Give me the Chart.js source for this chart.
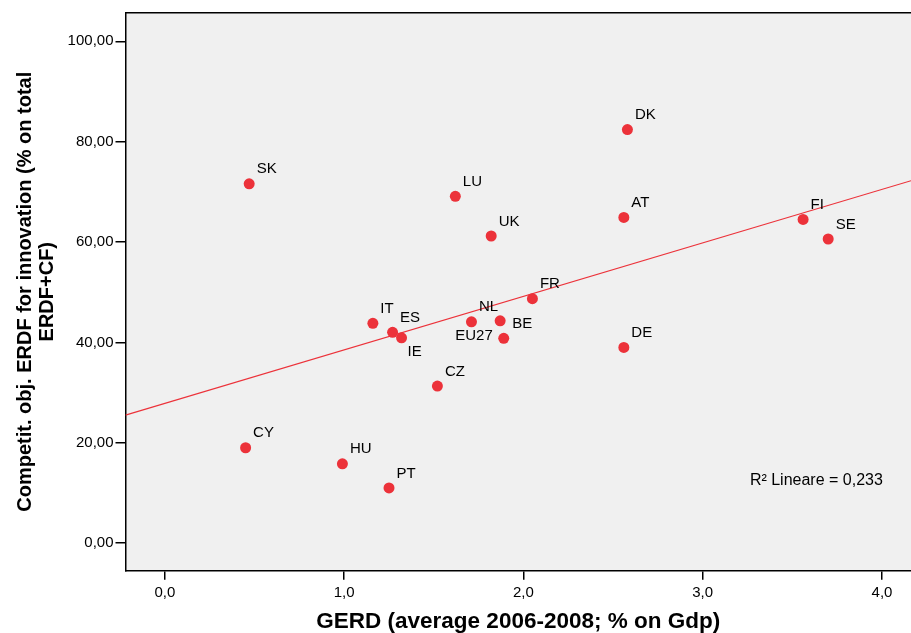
<!DOCTYPE html>
<html><head><meta charset="utf-8">
<script src="https://cdn.jsdelivr.net/npm/chart.js@4/dist/chart.umd.min.js"></script>
<style>html,body{margin:0;padding:0;background:#fff;} #wrap{width:911px;height:633px;}</style>
</head><body><div id="wrap"><canvas id="c" width="911" height="633"></canvas></div>
<script>
// ---- data ----
const countries      = ['SK','CY','HU','PT','IT','ES','IE','CZ','NL','BE','EU27','FR','LU','UK','DK','AT','DE','FI','SE'];
const gerd           = [0.47,0.45,0.99,1.25,1.16,1.27,1.32,1.52,1.71,1.87,1.89,2.05,1.62,1.82,2.58,2.56,2.56,3.56,3.70];
const erdfInnovation = [71.6,19.0,15.8,11.0,43.8,42.0,40.9,31.3,44.1,44.3,40.8,48.7,69.1,61.2,82.4,64.9,39.0,64.5,60.6];
const labelSide      = ['ne','ne','ne','ne','ne','ne','se','ne','ne','e','w','ne','ne','ne','ne','ne','ne','ne','ne'];
const xTicks = [0,1,2,3,4];
const yTicks = [0,20,40,60,80,100];
const fitIntercept = 27.85;
const fitSlope = 10.66;
const rSquaredText = 'R\u00B2 Lineare = 0,233';
const xTitle = 'GERD (average 2006-2008; % on Gdp)';
const yTitle = ['Competit. obj. ERDF for innovation (% on total', 'ERDF+CF)'];

const xMin = -0.22, xMax = 4.162, yMin = -5.5, yMax = 105.7;
const FONT = '"Liberation Sans", Arial, sans-serif';
const RED = 'rgb(236,50,58)';

const points = gerd.map((g, i) => ({x: g, y: erdfInnovation[i]}));
const fitPoints = [xMin, xMax].map(x => ({x, y: fitIntercept + fitSlope * x}));

const fmtComma = d => v => v.toFixed(d).replace('.', ',');

const decor = {
  id: 'decor',
  beforeDraw(chart) {
    const {ctx, chartArea: a} = chart;
    ctx.save();
    ctx.fillStyle = '#f0f0f0';
    ctx.fillRect(a.left, a.top, a.right - a.left, a.bottom - a.top);
    ctx.restore();
  },
  afterDraw(chart) {
    const {ctx, chartArea: a} = chart;
    ctx.save();
    ctx.strokeStyle = '#000';
    ctx.lineWidth = 1.5;
    ctx.beginPath();
    ctx.moveTo(a.left, a.top);
    ctx.lineTo(a.right, a.top);
    ctx.stroke();
    // point labels
    const meta = chart.getDatasetMeta(0);
    ctx.fillStyle = '#000';
    ctx.font = '15px ' + FONT;
    ctx.textBaseline = 'middle';
    meta.data.forEach((el, i) => {
      const side = labelSide[i];
      let dx = 7.5, dy = -14.5, align = 'left';
      if (side === 'se') { dx = 6; dy = 14; }
      else if (side === 'w') { dx = -11; dy = -3; align = 'right'; }
      else if (side === 'e') { dx = 12; dy = 3; }
      ctx.textAlign = align;
      ctx.fillText(countries[i], el.x + dx, el.y + dy);
    });
    // R squared note
    const xs = chart.scales.x, ys = chart.scales.y;
    ctx.font = '16px ' + FONT;
    ctx.textAlign = 'right';
    ctx.fillText(rSquaredText, xs.getPixelForValue(4.005), ys.getPixelForValue(12.4));
    ctx.restore();
  }
};

new Chart(document.getElementById('c'), {
  type: 'scatter',
  data: {
    datasets: [
      {
        data: points,
        backgroundColor: RED,
        borderColor: RED,
        pointRadius: 5.5,
        pointHoverRadius: 5.5,
        borderWidth: 0
      },
      {
        type: 'line',
        data: fitPoints,
        borderColor: RED,
        borderWidth: 1.2,
        pointRadius: 0,
        fill: false
      }
    ]
  },
  options: {
    responsive: false,
    animation: false,
    events: [],
    layout: {autoPadding: false, padding: {top: 12.7, right: 0, left: 0, bottom: 0}},
    plugins: {legend: {display: false}, tooltip: {enabled: false}},
    scales: {
      x: {
        type: 'linear',
        min: xMin, max: xMax,
        afterBuildTicks: s => { s.ticks = xTicks.map(v => ({value: v})); },
        afterFit: s => { s.height = 62.3; s.paddingLeft = 0; s.paddingRight = 0; },
        border: {display: true, color: '#000', width: 1.5},
        grid: {drawOnChartArea: false, drawTicks: true, tickLength: 9, color: '#000', lineWidth: 1.5},
        ticks: {color: '#000', font: {family: FONT, size: 15}, padding: 4, maxRotation: 0, callback: fmtComma(1)},
        title: {display: true, text: xTitle, color: '#000', font: {family: FONT, size: 22.5, weight: 'bold', lineHeight: 1.0}, padding: {top: 0, bottom: 0}}
      },
      y: {
        type: 'linear',
        min: yMin, max: yMax,
        afterBuildTicks: s => { s.ticks = yTicks.map(v => ({value: v})); },
        afterFit: s => { s.width = 125.5; s.paddingTop = 0; s.paddingBottom = 0; },
        border: {display: true, color: '#000', width: 1.5},
        grid: {drawOnChartArea: false, drawTicks: true, tickLength: 10, color: '#000', lineWidth: 1.5},
        ticks: {color: '#000', font: {family: FONT, size: 15}, padding: 2, callback: fmtComma(2)},
        title: {display: true, text: yTitle, color: '#000', font: {family: FONT, size: 20, weight: 'bold', lineHeight: 1.1}, padding: {top: 14, bottom: 0}}
      }
    }
  },
  plugins: [decor]
});
</script>
</body></html>
